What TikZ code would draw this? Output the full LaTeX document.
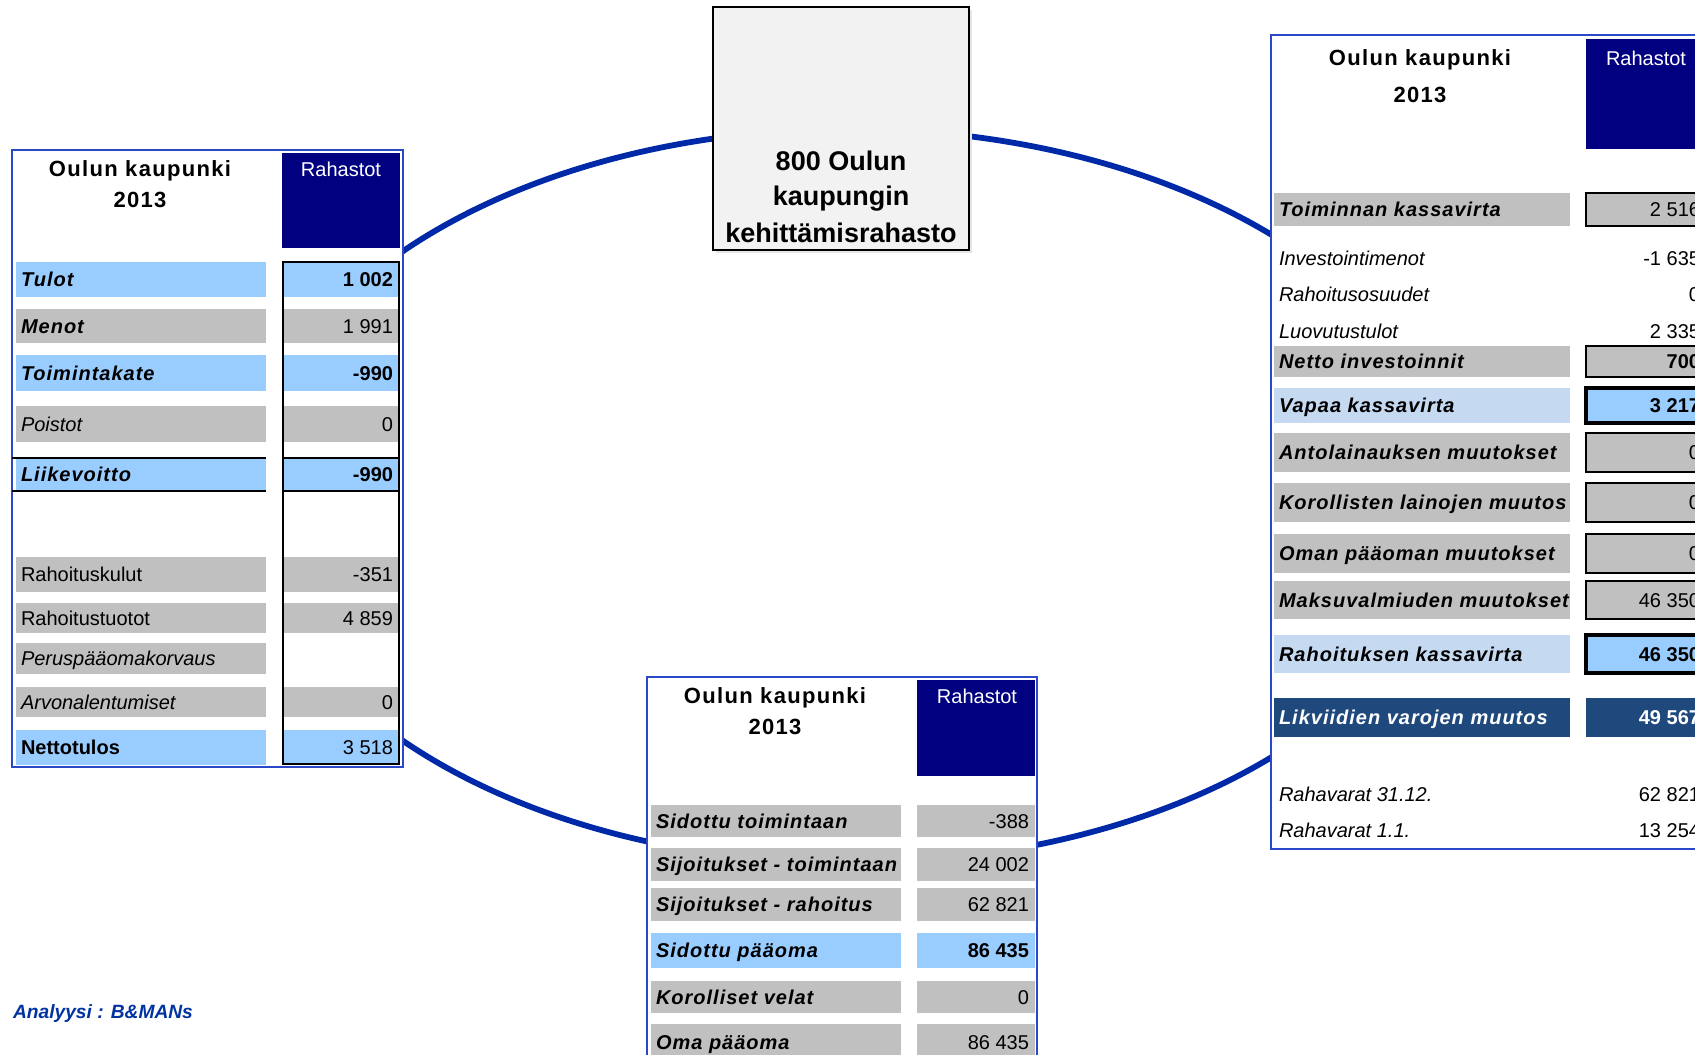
\documentclass[tikz,border=0pt]{standalone}
\usepackage{fontspec}
\setmainfont{Liberation Sans}
\newfontfamily\spfont[LetterSpace=5]{Liberation Sans}
\newfontfamily\ttlfont[LetterSpace=6]{Liberation Sans}
\definecolor{navyc}{HTML}{000080}
\definecolor{lblue}{HTML}{99CCFF}
\definecolor{pblue}{HTML}{C5D9F1}
\definecolor{cgray}{HTML}{C0C0C0}
\definecolor{dblue}{HTML}{1F497D}
\definecolor{frameblue}{HTML}{2A48C8}
\definecolor{ringblue}{HTML}{0029A8}
\definecolor{boxgray}{HTML}{F2F2F2}
\definecolor{anblue}{HTML}{0033A0}
\newcommand{\fLB}{\spfont\bfseries\itshape}
\newcommand{\fI}{\itshape}
\newcommand{\fR}{\normalfont}
\newcommand{\fB}{\bfseries}
\newcommand{\cellbox}[6]{\node[cellbase,#6,minimum width={(#4-#2)*0.5pt},minimum height={(#5-#3)*0.5pt}] (#1) at (#2,#3) {};}
\newcommand{\cellL}[8]{\cellbox{#1}{#2}{#3}{#4}{#5}{#6}%
  \node[anchor=base west] (#1-t) at ([xshift=2.5pt,yshift=-3.6pt]#1.west) {#7#8};}
\newcommand{\cellR}[8]{\cellbox{#1}{#2}{#3}{#4}{#5}{#6}%
  \node[anchor=base east] (#1-t) at ([xshift=-3pt,yshift=-3.6pt]#1.east) {#7#8};}
\tikzset{
  cellbase/.style={anchor=north west, inner sep=0pt, outer sep=0pt},
  gcell/.style={fill=cgray},
  bcell/.style={fill=lblue},
  pcell/.style={fill=pblue},
  dcell/.style={fill=dblue},
  gbox/.style={fill=cgray, draw=black, line width=1pt},
  bbox/.style={fill=lblue, draw=black, line width=1.6pt},
  frame/.style={fill=white, draw=frameblue, line width=1pt},
  head/.style={fill=navyc},
  ring/.style={draw=ringblue, line width=2.9pt},
  titletext/.style={font=\ttlfont\bfseries\fontsize{11}{13}\selectfont},
  headtext/.style={text=white, font=\fontsize{10}{12}\selectfont},
  centertext/.style={font=\bfseries\fontsize{13.5}{16}\selectfont},
}
\begin{document}
\begin{tikzpicture}[x=0.5pt,y=-0.5pt, every node/.style={font=\fontsize{10}{12}\selectfont, inner sep=0pt, outer sep=0pt}]
\useasboundingbox (0,0) rectangle (1695,1054);
\clip (0,0) rectangle (1695,1054);
\fill[white] (0,0) rectangle (1695,1054);

% ring
\draw[ring] (850,496) ellipse [x radius=300pt, y radius=183.5pt];

% ---------- center box
\cellbox{cshadow}{716}{10}{972}{253}{fill=black!10}
\cellbox{cbox}{713}{7}{969}{250}{fill=boxgray,draw=black,line width=1pt}
\node[centertext,anchor=base] (c1) at (841,170) {800 Oulun};
\node[centertext,anchor=base] (c2) at (841,205) {kaupungin};
\node[centertext,anchor=base] (c3) at (841,242) {kehittämisrahasto};

% ---------- left table
\cellbox{lframe}{12}{150}{403}{767}{frame}
\cellbox{lhead}{282}{153}{400}{248}{head}
\node[titletext,anchor=base] (ltitle1) at (140,176) {Oulun kaupunki};
\node[titletext,anchor=base] (ltitle2) at (140,207) {2013};
\node[headtext,anchor=base] (lheadt) at (341,176) {Rahastot};

\cellL{lt1}{16}{262}{266}{297}{bcell}{\fLB}{Tulot}
\cellR{lv1}{283}{262}{399}{297}{bcell}{\fB}{1 002}
\cellL{lt2}{16}{309}{266}{343}{gcell}{\fLB}{Menot}
\cellR{lv2}{283}{309}{399}{343}{gcell}{\fR}{1 991}
\cellL{lt3}{16}{355}{266}{391}{bcell}{\fLB}{Toimintakate}
\cellR{lv3}{283}{355}{399}{391}{bcell}{\fB}{-990}
\cellL{lt4}{16}{406}{266}{442}{gcell}{\fI}{Poistot}
\cellR{lv4}{283}{406}{399}{442}{gcell}{\fR}{0}
\cellL{lt5}{16}{458}{266}{491}{bcell}{\fLB}{Liikevoitto}
\cellR{lv5}{283}{458}{399}{491}{bcell}{\fB}{-990}
\cellL{lt6}{16}{557}{266}{592}{gcell}{\fR}{Rahoituskulut}
\cellR{lv6}{283}{557}{399}{592}{gcell}{\fR}{-351}
\cellL{lt7}{16}{603}{266}{633}{gcell}{\fR}{Rahoitustuotot}
\cellR{lv7}{283}{603}{399}{633}{gcell}{\fR}{4 859}
\cellL{lt8}{16}{643}{266}{674}{gcell}{\fI}{Peruspääomakorvaus}
\cellL{lt9}{16}{687}{266}{717}{gcell}{\fI}{Arvonalentumiset}
\cellR{lv9}{283}{687}{399}{717}{gcell}{\fR}{0}
\cellL{lt10}{16}{730}{266}{765}{bcell}{\fB}{Nettotulos}
\cellR{lv10}{283}{730}{399}{765}{bcell}{\fR}{3 518}
\draw[line width=1pt] (lframe.west |- lt5.north) -- (lt5.north east);
\draw[line width=1pt] (lframe.west |- lt5.south) -- (lt5.south east);
\draw[line width=1pt] (lv5.north west) -- (lv5.north east);
\draw[line width=1pt] (lv5.south west) -- (lv5.south east);
\cellbox{lvcol}{283}{262}{399}{764}{draw=black,line width=1pt}

% ---------- right table
\cellbox{rframe}{1271}{35}{1730}{849}{frame}
\cellbox{rhead}{1586}{39}{1728}{149}{head}
\node[titletext,anchor=base] (rtitle1) at (1420,66) {Oulun kaupunki};
\node[titletext,anchor=base] (rtitle2) at (1420,103) {2013};
\node[headtext,anchor=base] (rheadt) at (1646,66) {Rahastot};

\cellL{rt1}{1274}{193}{1570}{226}{gcell}{\fLB}{Toiminnan kassavirta}
\cellR{rv1}{1586}{193}{1706}{226}{gbox}{\fR}{2 516}
\node[anchor=base west] (rt2) at (1279,265) {\fI Investointimenot};
\node[anchor=base east] (rv2) at (1700,265) {-1 635};
\node[anchor=base west] (rt3) at (1279,301) {\fI Rahoitusosuudet};
\node[anchor=base east] (rv3) at (1700,301) {0};
\node[anchor=base west] (rt4) at (1279,338) {\fI Luovutustulot};
\node[anchor=base east] (rv4) at (1700,338) {2 335};
\cellL{rt5}{1274}{346}{1570}{377}{gcell}{\fLB}{Netto investoinnit}
\cellR{rv5}{1586}{346}{1706}{377}{gbox}{\fB}{700}
\cellL{rt6}{1274}{388}{1570}{423}{pcell}{\fLB}{Vapaa kassavirta}
\cellR{rv6}{1586}{388}{1706}{423}{bbox}{\fB}{3 217}
\cellL{rt7}{1274}{433}{1570}{472}{gcell}{\fLB}{Antolainauksen muutokset}
\cellR{rv7}{1586}{433}{1706}{472}{gbox}{\fR}{0}
\cellL{rt8}{1274}{483}{1570}{522}{gcell}{\fLB}{Korollisten lainojen muutos}
\cellR{rv8}{1586}{483}{1706}{522}{gbox}{\fR}{0}
\cellL{rt9}{1274}{534}{1570}{573}{gcell}{\fLB}{Oman pääoman muutokset}
\cellR{rv9}{1586}{534}{1706}{573}{gbox}{\fR}{0}
\cellL{rt10}{1274}{581}{1570}{619}{gcell}{\fLB}{Maksuvalmiuden muutokset}
\cellR{rv10}{1586}{581}{1706}{619}{gbox}{\fR}{46 350}
\cellL{rt11}{1274}{635}{1570}{673}{pcell}{\fLB}{Rahoituksen kassavirta}
\cellR{rv11}{1586}{635}{1706}{673}{bbox}{\fB}{46 350}
\cellL{rt12}{1274}{698}{1570}{737}{dcell}{\color{white}\fLB}{Likviidien varojen muutos}
\cellR{rv12}{1586}{698}{1706}{737}{dcell}{\color{white}\fB}{49 567}
\node[anchor=base west] (rt13) at (1279,801) {\fI Rahavarat 31.12.};
\node[anchor=base east] (rv13) at (1700,801) {62 821};
\node[anchor=base west] (rt14) at (1279,837) {\fI Rahavarat 1.1.};
\node[anchor=base east] (rv14) at (1700,837) {13 254};

% ---------- bottom table
\cellbox{bframe}{647}{677}{1037}{1080}{frame}
\cellbox{bhead}{917}{680}{1035}{776}{head}
\node[titletext,anchor=base] (btitle1) at (775,703) {Oulun kaupunki};
\node[titletext,anchor=base] (btitle2) at (775,734) {2013};
\node[headtext,anchor=base] (bheadt) at (977,703) {Rahastot};

\cellL{bt1}{651}{805}{901}{837}{gcell}{\fLB}{Sidottu toimintaan}
\cellR{bv1}{917}{805}{1035}{837}{gcell}{\fR}{-388}
\cellL{bt2}{651}{848}{901}{881}{gcell}{\fLB}{Sijoitukset - toimintaan}
\cellR{bv2}{917}{848}{1035}{881}{gcell}{\fR}{24 002}
\cellL{bt3}{651}{888}{901}{921}{gcell}{\fLB}{Sijoitukset - rahoitus}
\cellR{bv3}{917}{888}{1035}{921}{gcell}{\fR}{62 821}
\cellL{bt4}{651}{933}{901}{968}{bcell}{\fLB}{Sidottu pääoma}
\cellR{bv4}{917}{933}{1035}{968}{bcell}{\fB}{86 435}
\cellL{bt5}{651}{981}{901}{1013}{gcell}{\fLB}{Korolliset velat}
\cellR{bv5}{917}{981}{1035}{1013}{gcell}{\fR}{0}
\cellL{bt6}{651}{1024}{901}{1060}{gcell}{\fLB}{Oma pääoma}
\cellR{bv6}{917}{1024}{1035}{1060}{gcell}{\fR}{86 435}

% ---------- footer
\node[anchor=base west, text=anblue, font=\bfseries\itshape\fontsize{9.6}{11}\selectfont] (analyysi) at (13,1018) {Analyysi : B\&MANs};
\end{tikzpicture}
\end{document}
